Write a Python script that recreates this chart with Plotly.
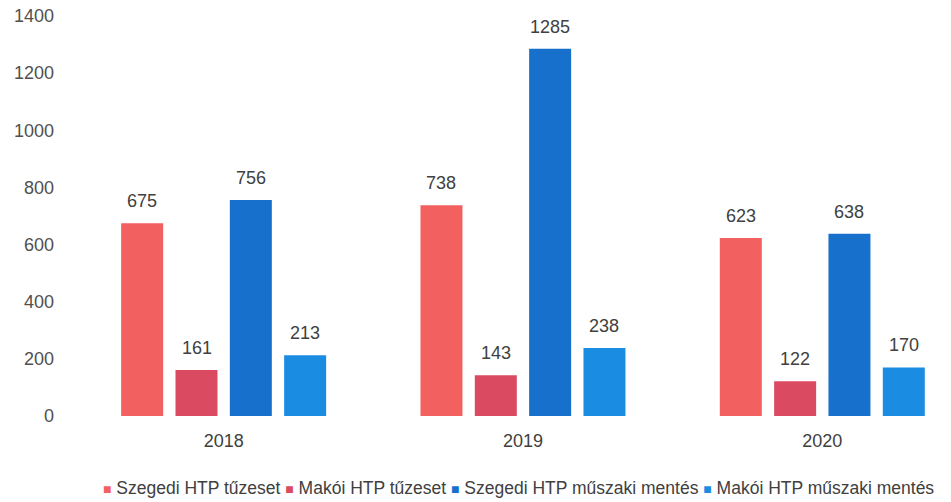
import plotly.graph_objects as go

years = ["2018", "2019", "2020"]
series_names = [
    "Szegedi HTP tűzeset",
    "Makói HTP tűzeset",
    "Szegedi HTP műszaki mentés",
    "Makói HTP műszaki mentés",
]
szegedi_tuzeset = [675, 738, 623]
makoi_tuzeset = [161, 143, 122]
szegedi_mentes = [756, 1285, 638]
makoi_mentes = [213, 238, 170]
y_ticks = [0, 200, 400, 600, 800, 1000, 1200, 1400]

colors = ["#F2615F", "#DA4A60", "#1670CC", "#1A8CE2"]
values = [szegedi_tuzeset, makoi_tuzeset, szegedi_mentes, makoi_mentes]

x_pos = list(range(len(years)))
font_family = "Liberation Sans, Arial, sans-serif"
text_color = "#404040"
bargap = 0.274
bargroupgap = 0.227

fig = go.Figure()
for name, vals, col in zip(series_names, values, colors):
    fig.add_trace(go.Bar(
        x=x_pos,
        y=vals,
        name=name,
        marker=dict(color=col, line=dict(width=0)),
        showlegend=False,
    ))

# value labels above each bar, placed at the centre of its slot in the group
n = len(values)
slot = (1 - bargap) / n
annotations = []
for i, vals in enumerate(values):
    offset = (i - (n - 1) / 2) * slot
    for xp, v in zip(x_pos, vals):
        annotations.append(dict(
            x=xp + offset, y=v, xref="x", yref="y",
            text=str(v), showarrow=False,
            yanchor="middle", yshift=22,
            font=dict(size=18, color=text_color, family=font_family),
        ))

# legend row under the axis
legend_parts = [
    f"<span style='color:{c};font-size:14px'>■</span> {name}"
    for name, c in zip(series_names, colors)
]
annotations.append(dict(
    x=0.507, y=-0.18, xref="paper", yref="paper",
    xanchor="center", yanchor="middle",
    text="&nbsp;".join(legend_parts), showarrow=False,
    font=dict(size=17.5, color=text_color, family=font_family),
))

fig.update_layout(
    width=951,
    height=502,
    margin=dict(l=74, r=0, t=16, b=86),
    paper_bgcolor="white",
    plot_bgcolor="white",
    barmode="group",
    bargap=bargap,
    bargroupgap=bargroupgap,
    font=dict(family=font_family, size=18, color=text_color),
    showlegend=False,
    annotations=annotations,
    xaxis=dict(
        range=[-0.5, 2.43],
        tickmode="array",
        tickvals=x_pos,
        ticktext=years,
        showgrid=False,
        zeroline=False,
        showline=False,
        ticks="",
        ticklabelstandoff=12,
        tickfont=dict(size=18, color=text_color),
    ),
    yaxis=dict(
        range=[0, 1400],
        tickmode="array",
        tickvals=y_ticks,
        showgrid=False,
        zeroline=False,
        showline=False,
        ticks="",
        ticklabelstandoff=19,
        tickfont=dict(size=18, color="#505050"),
    ),
)

fig.write_html("out.html")
